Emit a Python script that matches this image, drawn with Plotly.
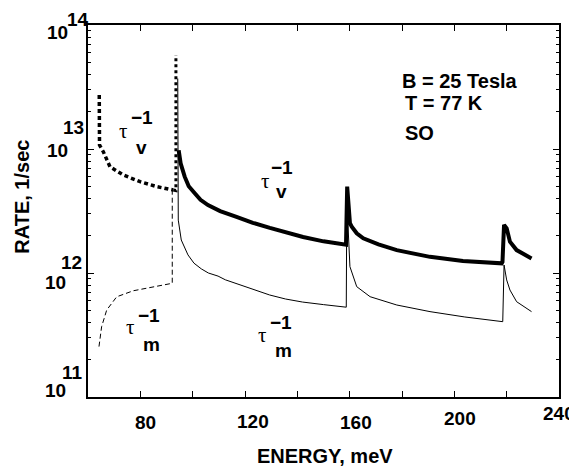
import plotly.graph_objects as go

# ---------------- data ----------------
# tau_v^-1 below the first threshold (thick dashed)
tv_low_x = [64.3, 64.4, 65.85, 68.4, 73.5, 79.9, 86.25, 92.6]
tv_low_y = [2.72e13, 1.076e13, 9.5e12, 7.19e12, 6.17e12, 5.45e12, 4.97e12, 4.67e12]
# tau_v^-1 threshold spike (thick dotted)
tv_spk_x = [92.6, 93.6, 93.6]
tv_spk_y = [4.67e12, 4.62e12, 5.73e13]
# tau_v^-1 above the threshold (thick solid)
tv_high_x = [94.66, 95.4, 96.95, 98.5, 100.8, 103.0, 105.85, 110.5, 116.75, 123.0, 129.5,
             136.0, 142.2, 150.0, 158.2,
             158.6, 159.05, 159.85, 160.1, 160.8, 162.7, 165.2, 171.0, 178.0, 190.7, 203.3, 218.1,
             218.4, 219.0, 220.0, 220.6, 221.25, 223.8, 229.5]
tv_high_y = [9.77e12, 7.67e12, 5.98e12, 5.01e12, 4.40e12, 3.89e12, 3.53e12, 3.16e12, 2.84e12, 2.54e12, 2.31e12,
             2.11e12, 1.95e12, 1.80e12, 1.68e12,
             1.69e12, 4.97e12, 3.22e12, 2.52e12, 2.36e12, 2.09e12, 1.905e12, 1.70e12, 1.53e12, 1.35e12, 1.25e12, 1.197e12,
             1.23e12, 2.44e12, 2.29e12, 1.96e12, 1.79e12, 1.53e12, 1.31e12]

# tau_m^-1 below the first threshold (thin dashed)
tm_low_x = [64.2, 65.2, 67.15, 70.97, 77.3, 83.7, 92.0, 92.2, 92.2]
tm_low_y = [2.55e11, 3.69e11, 5.03e11, 6.43e11, 7.19e11, 7.66e11, 8.26e11, 8.26e11, 4.67e12]
# tau_m^-1 above the threshold (thin solid)
tm_high_x = [94.3, 94.5, 95.65, 98.2, 100.5, 103.3, 106.0, 109.7, 112.5, 116.7, 123.0, 129.4,
             135.5, 142.0, 150.0, 158.2,
             158.7, 158.9, 159.4, 160.1, 162.7, 167.8, 178.0, 190.7, 204.0, 218.1,
             218.5, 219.0, 220.0, 221.25, 223.8, 229.5]
tm_high_y = [3.7e13, 2.67e12, 1.845e12, 1.40e12, 1.20e12, 1.08e12, 1.00e12, 9.44e11, 8.81e11, 8.22e11, 7.33e11, 6.65e11,
             6.17e11, 5.83e11, 5.56e11, 5.32e11,
             5.30e11, 3.9e12, 2.0e12, 1.125e12, 7.76e11, 6.44e11, 5.52e11, 4.88e11, 4.42e11, 4.05e11,
             4.05e11, 1.16e12, 8.79e11, 7.29e11, 5.87e11, 4.88e11]

x_tick_vals = [80, 120, 160, 200, 240]
x_tick_text = ["80", "120", "160", "200", "240"]
y_tick_exps = [11, 12, 13, 14]

FONT = "Liberation Sans, Arial, sans-serif"
SERIF = "Liberation Serif, Times New Roman, serif"

fig = go.Figure()
fig.add_trace(go.Scatter(x=tm_low_x, y=tm_low_y, mode="lines",
                         line=dict(color="black", width=1, dash="5px,3px")))
fig.add_trace(go.Scatter(x=tm_high_x, y=tm_high_y, mode="lines",
                         line=dict(color="black", width=1)))
fig.add_trace(go.Scatter(x=tv_low_x, y=tv_low_y, mode="lines",
                         line=dict(color="black", width=3.5, dash="4px,3px")))
fig.add_trace(go.Scatter(x=tv_spk_x, y=tv_spk_y, mode="lines",
                         line=dict(color="black", width=3, dash="dot")))
fig.add_trace(go.Scatter(x=tv_high_x, y=tv_high_y, mode="lines",
                         line=dict(color="black", width=4)))

minor_vals = [m * 10 ** e for e in [11, 12, 13] for m in range(2, 10)]

# the page body adds an 8px margin, so the figure is 8px smaller and shifted
fig.update_layout(
    width=569, height=468,
    margin=dict(l=80, r=18, t=17, b=79),
    plot_bgcolor="white", paper_bgcolor="white",
    showlegend=False,
    font=dict(family=FONT, color="black"),
)
fig.update_xaxes(range=[60, 240], tick0=0, dtick=20, ticks="inside", ticklen=6,
                 tickwidth=1, tickcolor="black", showline=True, linewidth=2,
                 linecolor="black", mirror="ticks", showgrid=False, zeroline=False,
                 showticklabels=False)
fig.update_yaxes(type="log", range=[11, 14], dtick=1, ticks="inside", ticklen=6,
                 tickwidth=1, tickcolor="black", showline=True, linewidth=2,
                 linecolor="black", mirror="ticks", showgrid=False, zeroline=False,
                 showticklabels=False,
                 minor=dict(tickmode="array", tickvals=minor_vals, ticks="inside",
                            ticklen=3, tickwidth=1, tickcolor="black", showgrid=False))

ann = []
B = dict(family=FONT, size=19, color="black")

# x tick labels
x_shift = [5.5, 8.3, 6.1, 5.6, 0]
x_yshift = [-25, -24.7, -25, -21, -16]
for v, t, dx, dy in zip(x_tick_vals, x_tick_text, x_shift, x_yshift):
    ann.append(dict(x=v, y=0, xref="x", yref="paper", text="<b>%s</b>" % t,
                    showarrow=False, xanchor="center", yanchor="middle",
                    xshift=dx, yshift=dy, font=B))

# y tick labels: "10" with a raised exponent
base_dx = [-33, -33, -30.5, -30.5]
base_dy = [7, -9, -1, -7.5]
exp_dx = [-15.5, -16.5, -14.5, -10.5]
exp_dy = [25, 11, 21.5, 5.5]
for e, bx, by, ex, ey in zip(y_tick_exps, base_dx, base_dy, exp_dx, exp_dy):
    ann.append(dict(x=0, y=e, xref="paper", yref="y", text="<b>10</b>",
                    showarrow=False, xanchor="center", yanchor="middle",
                    xshift=bx, yshift=by, font=B))
    ann.append(dict(x=0, y=e, xref="paper", yref="y", text="<b>%d</b>" % e,
                    showarrow=False, xanchor="center", yanchor="middle",
                    xshift=ex, yshift=ey, font=B))

# axis titles
ann.append(dict(x=0.503, y=0, xref="paper", yref="paper", text="<b>ENERGY, meV</b>",
                showarrow=False, xanchor="center", yanchor="middle", yshift=-59,
                font=dict(family=FONT, size=20, color="black")))
ann.append(dict(x=0, y=0.5376, xref="paper", yref="paper", text="<b>RATE, 1/sec</b>",
                showarrow=False, xanchor="center", yanchor="middle", xshift=-66.3,
                textangle=-90, font=dict(family=FONT, size=20, color="black")))

# parameter text block (y in log10 units on the log axis)
for txt, xx, yy in [("B = 25 Tesla", 179.4, 13.548), ("T = 77 K", 180.4, 13.371),
                    ("SO", 180.4, 13.129)]:
    ann.append(dict(x=xx, y=yy, xref="x", yref="y", text="<b>%s</b>" % txt,
                    showarrow=False, xanchor="left", yanchor="middle",
                    font=dict(family=FONT, size=20, color="black")))

# tau labels
tau_labels = [
    # (x, log10 y, sub, (dx,dy) for -1, (dx,dy) for sub)
    (73.37, 13.129, "v", (19.5, 15.5), (19, -16)),
    (127.64, 12.726, "v", (17, 15.5), (17, -11)),
    (76.24, 11.552, "m", (18.5, 13.5), (21, -17.5)),
    (126.68, 11.480, "m", (18.5, 14.5), (21.5, -15)),
]
for xx, yy, sub, (ax, ay), (sx, sy) in tau_labels:
    ann.append(dict(x=xx, y=yy, xref="x", yref="y", text="\u03c4", showarrow=False,
                    xanchor="center", yanchor="middle", yshift=2,
                    font=dict(family=SERIF, size=21, color="black")))
    ann.append(dict(x=xx, y=yy, xref="x", yref="y", text="<b>\u22121</b>", showarrow=False,
                    xanchor="center", yanchor="middle", xshift=ax, yshift=ay, font=B))
    ann.append(dict(x=xx, y=yy, xref="x", yref="y", text="<b>%s</b>" % sub, showarrow=False,
                    xanchor="center", yanchor="middle", xshift=sx, yshift=sy + 2, font=B))

fig.update_layout(annotations=ann)
fig.write_html("out.html")
